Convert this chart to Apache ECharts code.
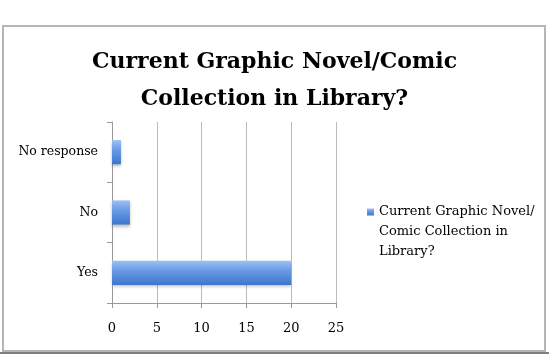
<!DOCTYPE html>
<html><head><meta charset="utf-8">
<script src="https://cdn.jsdelivr.net/npm/echarts@6/dist/echarts.min.js"></script>
<style>html,body{margin:0;padding:0;background:#fff}#c{width:549px;height:354px}</style>
</head><body><div id="c"></div>
<script>
const categories = ['Yes', 'No', 'No response'];
const values = [20, 2, 1];
const xTicks = [0, 5, 10, 15, 20, 25];
const seriesName = 'Current Graphic Novel/Comic Collection in Library?';
const titleText = 'Current Graphic Novel/Comic\nCollection in Library?';

const chart = echarts.init(document.getElementById('c'), null, {renderer: 'canvas'});
const font = '"DejaVu Serif", "Liberation Serif", serif';
chart.setOption({
  animation: false,
  title: {
    text: titleText, left: 'center', top: 39,
    textStyle: {fontFamily: font, fontSize: 22, fontWeight: 'bold', color: '#000', lineHeight: 37}
  },
  legend: {
    data: [seriesName], orient: 'vertical', left: 362, top: 157,
    icon: 'rect', itemWidth: 7, itemHeight: 7, itemGap: 4,
    formatter: () => '\n\nCurrent Graphic Novel/\nComic Collection in\nLibrary?',
    textStyle: {fontFamily: font, fontSize: 13, color: '#000', lineHeight: 20}
  },
  grid: {left: 112, top: 122, width: 224, height: 181, containLabel: false},
  xAxis: {
    type: 'value', min: xTicks[0], max: xTicks[xTicks.length - 1], interval: 5,
    axisLine: {show: true, lineStyle: {color: '#999', width: 1}},
    axisTick: {show: true, length: 5, lineStyle: {color: '#999'}},
    axisLabel: {fontFamily: font, fontSize: 13, color: '#000', margin: 19},
    splitLine: {show: true, lineStyle: {color: '#bbb', width: 1}}
  },
  yAxis: {
    type: 'category', data: categories,
    axisLine: {show: true, lineStyle: {color: '#999', width: 1}},
    axisTick: {show: true, length: 5, lineStyle: {color: '#999'}},
    axisLabel: {fontFamily: font, fontSize: 12.5, color: '#000', margin: 14}
  },
  series: [{
    name: seriesName, type: 'bar', data: values, barWidth: '40%',
    itemStyle: {
      color: new echarts.graphic.LinearGradient(0, 0, 0, 1, [
        {offset: 0, color: '#9cc0f5'}, {offset: 0.4, color: '#6a9be4'}, {offset: 1, color: '#3d76cc'}
      ]),
      shadowColor: 'rgba(0,0,0,0.25)', shadowBlur: 3, shadowOffsetY: 2
    }
  }],
  graphic: [
    {type: 'rect', shape: {x: 3, y: 26, width: 542, height: 325}, style: {fill: 'none', stroke: '#b5b5b5', lineWidth: 2}, z: -1},
    {type: 'line', shape: {x1: 0, y1: 353, x2: 549, y2: 353}, style: {stroke: '#555', lineWidth: 1.5}}
  ]
});
</script></body></html>
